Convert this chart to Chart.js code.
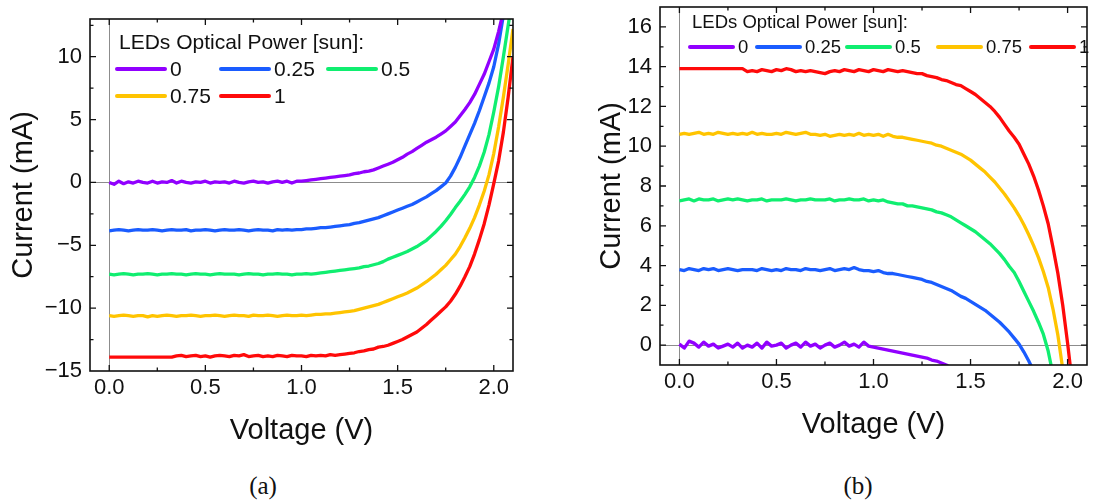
<!DOCTYPE html>
<html lang="en">
<head>
<meta charset="UTF-8">
<title>LED I-V curves</title>
<script src="https://cdn.jsdelivr.net/npm/chart.js"></script>
<style>
  body { margin: 0; background: #fff; width: 1106px; height: 500px; position: relative; overflow: hidden; }
  .box { position: absolute; top: 0; height: 455px; }
  #boxA { left: 0; width: 545px; }
  #boxB { left: 560px; width: 546px; }
  .cap { position: absolute; top: 472px; line-height: 30px; font: 25px "Liberation Serif", "DejaVu Serif", serif; color: #111; transform: translateX(-50%); }
</style>
</head>
<body>
<div class="box" id="boxA"><canvas id="chartA"></canvas></div>
<div class="box" id="boxB"><canvas id="chartB"></canvas></div>
<div class="cap" style="left:263px">(a)</div>
<div class="cap" style="left:858px">(b)</div>

<script>
// voltage sweep (V), shared by every curve
const voltage = [0, 0.025, 0.05, 0.075, 0.1, 0.125, 0.15, 0.175, 0.2, 0.225, 0.25, 0.275, 0.3, 0.325, 0.35, 0.375, 0.4, 0.425, 0.45, 0.475,
  0.5, 0.525, 0.55, 0.575, 0.6, 0.625, 0.65, 0.675, 0.7, 0.725, 0.75, 0.775, 0.8, 0.825, 0.85, 0.875, 0.9, 0.925, 0.95, 0.975,
  1.0, 1.025, 1.05, 1.075, 1.1, 1.125, 1.15, 1.175, 1.2, 1.225, 1.25, 1.275, 1.3, 1.325, 1.35, 1.375, 1.4, 1.425, 1.45, 1.475,
  1.5, 1.525, 1.55, 1.575, 1.6, 1.625, 1.65, 1.675, 1.7, 1.725, 1.75, 1.775, 1.8, 1.825, 1.85, 1.875, 1.9, 1.925, 1.95, 1.975,
  2.0, 2.025, 2.05, 2.075, 2.1];

const sunLabels = ['0', '0.25', '0.5', '0.75', '1'];
const legendTitle = 'LEDs Optical Power [sun]:';

// panel (a): current (mA)
const aSun0 = [0.0, -0.15, 0.1, -0.1, 0.05, -0.05, 0.1, 0.0, -0.05, 0.1, -0.05, 0.05, 0.0, 0.15, -0.05, 0.1, 0.0, -0.05, 0.05, 0.0,
  0.1, -0.05, 0.05, 0.0, 0.05, -0.05, 0.1, 0.0, -0.05, 0.05, 0.1, 0.0, 0.05, -0.05, 0.05, 0.1, 0.0, 0.1, -0.05, 0.1,
  0.1, 0.15, 0.2, 0.25, 0.3, 0.35, 0.4, 0.45, 0.5, 0.55, 0.6, 0.7, 0.75, 0.85, 0.9, 1.0, 1.15, 1.3, 1.45, 1.6,
  1.8, 2.0, 2.25, 2.45, 2.7, 2.95, 3.2, 3.4, 3.6, 3.85, 4.1, 4.45, 4.8, 5.3, 5.8, 6.35, 7.0, 7.8, 8.6, 9.6,
  10.6, 12.0, 13.6, null, null];
const aSun025 = [-3.85, -3.8, -3.75, -3.8, -3.85, -3.8, -3.75, -3.8, -3.8, -3.75, -3.8, -3.85, -3.8, -3.75, -3.8, -3.8, -3.75, -3.85, -3.8, -3.8,
  -3.75, -3.8, -3.85, -3.8, -3.75, -3.8, -3.8, -3.75, -3.8, -3.85, -3.8, -3.75, -3.8, -3.8, -3.85, -3.75, -3.8, -3.75, -3.8, -3.75,
  -3.75, -3.7, -3.7, -3.65, -3.6, -3.6, -3.55, -3.5, -3.45, -3.4, -3.35, -3.25, -3.2, -3.1, -3.0, -2.9, -2.8, -2.65, -2.5, -2.35,
  -2.2, -2.05, -1.9, -1.75, -1.55, -1.35, -1.15, -0.9, -0.65, -0.35, -0.05, 0.5, 1.2, 2.0, 2.9, 3.8, 4.7, 5.7, 6.8, 7.9,
  9.2, 11.0, 13.3, null, null];
const aSun05 = [-7.3, -7.35, -7.3, -7.25, -7.3, -7.35, -7.3, -7.3, -7.25, -7.3, -7.35, -7.3, -7.3, -7.25, -7.3, -7.3, -7.35, -7.3, -7.25, -7.3,
  -7.3, -7.35, -7.3, -7.25, -7.3, -7.3, -7.3, -7.35, -7.3, -7.25, -7.3, -7.3, -7.35, -7.3, -7.3, -7.25, -7.3, -7.3, -7.35, -7.3,
  -7.3, -7.25, -7.3, -7.25, -7.2, -7.15, -7.1, -7.05, -7.0, -6.95, -6.9, -6.85, -6.8, -6.7, -6.65, -6.55, -6.45, -6.3, -6.1, -5.95,
  -5.8, -5.65, -5.5, -5.3, -5.1, -4.85, -4.6, -4.25, -3.9, -3.5, -3.05, -2.55, -2.0, -1.5, -0.95, -0.35, 0.4, 1.3, 2.4, 3.8,
  5.6, 7.6, 10.0, 12.5, 15.0];
const aSun075 = [-10.6, -10.65, -10.6, -10.55, -10.6, -10.65, -10.6, -10.6, -10.7, -10.6, -10.65, -10.6, -10.55, -10.6, -10.65, -10.6, -10.6, -10.55, -10.6, -10.65,
  -10.6, -10.6, -10.55, -10.6, -10.65, -10.6, -10.55, -10.6, -10.6, -10.65, -10.55, -10.6, -10.6, -10.55, -10.6, -10.65, -10.6, -10.55, -10.6, -10.6,
  -10.55, -10.6, -10.55, -10.5, -10.5, -10.45, -10.45, -10.4, -10.35, -10.3, -10.25, -10.2, -10.1, -10.0, -9.9, -9.8, -9.7, -9.55, -9.4, -9.25,
  -9.1, -8.95, -8.8, -8.6, -8.4, -8.15, -7.9, -7.6, -7.3, -6.95, -6.6, -6.15, -5.7, -5.1, -4.4, -3.65, -2.8, -1.8, -0.7, 0.6,
  2.3, 4.4, 6.8, 9.4, 12.2];
const aSun1 = [-13.9, -13.9, -13.9, -13.9, -13.9, -13.9, -13.9, -13.9, -13.9, -13.9, -13.9, -13.9, -13.9, -13.9,
  -13.8, -13.75, -13.85, -13.8, -13.75, -13.85, -13.8, -13.9, -13.8, -13.75, -13.8, -13.85, -13.75, -13.8, -13.7, -13.85,
  -13.8, -13.75, -13.85, -13.8, -13.85, -13.75, -13.8, -13.85, -13.75, -13.8,
  -13.8, -13.85, -13.75, -13.8, -13.75, -13.8, -13.7, -13.75, -13.7, -13.65, -13.6, -13.55, -13.45, -13.4, -13.3, -13.25, -13.1, -13.05, -12.95, -12.8,
  -12.65, -12.5, -12.3, -12.1, -11.9, -11.6, -11.3, -10.95, -10.6, -10.25, -9.9, -9.45, -8.9, -8.25, -7.5, -6.7, -5.7, -4.55, -3.3, -1.8,
  -0.1, 1.7, 4.0, 6.8, 10.0];

// panel (b): current (mA), sign flipped
const bSun0 = [0.05, -0.15, 0.2, 0.1, -0.1, 0.15, -0.05, 0.05, -0.15, -0.05, 0.05, -0.1, 0.1, -0.15, 0.0, -0.1, 0.1, -0.15, 0.15, -0.05,
  0.0, 0.1, -0.15, 0.0, 0.1, -0.1, 0.15, -0.05, 0.05, -0.15, 0.0, 0.1, -0.1, 0.0, 0.15, -0.05, 0.05, -0.1, 0.15, -0.05,
  -0.1, -0.15, -0.2, -0.25, -0.3, -0.35, -0.4, -0.45, -0.5, -0.55, -0.6, -0.65, -0.75, -0.8, -0.9, -1.0, -1.15, null, null, null,
  null, null, null, null, null, null, null, null, null, null, null, null, null, null, null, null, null, null, null, null,
  null, null, null, null, null];
const bSun025 = [3.8, 3.75, 3.85, 3.8, 3.75, 3.85, 3.8, 3.85, 3.75, 3.8, 3.85, 3.8, 3.75, 3.8, 3.8, 3.8, 3.75, 3.85, 3.8, 3.75,
  3.8, 3.75, 3.85, 3.8, 3.8, 3.75, 3.85, 3.8, 3.8, 3.75, 3.8, 3.85, 3.75, 3.8, 3.85, 3.8, 3.9, 3.8, 3.75, 3.75,
  3.7, 3.75, 3.65, 3.6, 3.6, 3.55, 3.5, 3.45, 3.4, 3.35, 3.3, 3.2, 3.15, 3.05, 2.95, 2.85, 2.75, 2.6, 2.45, 2.35,
  2.2, 2.05, 1.9, 1.75, 1.55, 1.35, 1.15, 0.9, 0.65, 0.35, 0.05, -0.35, -0.8, -1.3, null, null, null, null, null, null,
  null, null, null, null, null];
const bSun05 = [7.25, 7.3, 7.35, 7.25, 7.35, 7.3, 7.3, 7.35, 7.25, 7.3, 7.35, 7.3, 7.35, 7.3, 7.25, 7.3, 7.3, 7.35, 7.25, 7.3,
  7.3, 7.3, 7.35, 7.3, 7.25, 7.3, 7.3, 7.35, 7.3, 7.3, 7.3, 7.35, 7.25, 7.3, 7.3, 7.35, 7.3, 7.3, 7.35, 7.25,
  7.3, 7.25, 7.3, 7.2, 7.15, 7.1, 7.1, 7.0, 7.0, 6.95, 6.9, 6.85, 6.8, 6.7, 6.65, 6.55, 6.45, 6.3, 6.15, 6.0,
  5.85, 5.7, 5.5, 5.3, 5.1, 4.85, 4.6, 4.3, 3.95, 3.65, 3.2, 2.7, 2.2, 1.7, 1.15, 0.55, -0.3, -1.5, null, null,
  null, null, null, null, null];
const bSun075 = [10.6, 10.65, 10.6, 10.65, 10.7, 10.6, 10.65, 10.6, 10.7, 10.65, 10.6, 10.65, 10.6, 10.65, 10.6, 10.7, 10.6, 10.65, 10.6, 10.6,
  10.65, 10.6, 10.7, 10.65, 10.6, 10.65, 10.7, 10.6, 10.6, 10.55, 10.6, 10.5, 10.55, 10.6, 10.55, 10.6, 10.55, 10.65, 10.55, 10.6,
  10.55, 10.6, 10.5, 10.6, 10.5, 10.45, 10.45, 10.4, 10.35, 10.3, 10.25, 10.2, 10.15, 10.05, 10.0, 9.9, 9.8, 9.7, 9.6, 9.45,
  9.3, 9.1, 8.9, 8.7, 8.45, 8.2, 7.9, 7.6, 7.25, 6.9, 6.5, 6.05, 5.55, 5.0, 4.4, 3.7, 2.9, 1.8, 0.5, -1.2,
  null, null, null, null, null];
const bSun1 = [13.9, 13.9, 13.9, 13.9, 13.9, 13.9, 13.9, 13.9, 13.9, 13.9, 13.9, 13.9, 13.9, 13.9,
  13.75, 13.8, 13.75, 13.85, 13.8, 13.75, 13.85, 13.8, 13.9, 13.85, 13.75, 13.8, 13.75, 13.8, 13.75, 13.7,
  13.65, 13.75, 13.8, 13.75, 13.85, 13.8, 13.75, 13.85, 13.8, 13.75,
  13.85, 13.8, 13.75, 13.85, 13.8, 13.75, 13.8, 13.75, 13.7, 13.65, 13.65, 13.55, 13.5, 13.45, 13.35, 13.3, 13.2, 13.1, 13.05, 12.9,
  12.75, 12.6, 12.4, 12.2, 12.0, 11.75, 11.45, 11.1, 10.75, 10.45, 10.1, 9.6, 9.1, 8.5, 7.8, 7.0, 6.1, 4.9, 3.6, 2.0,
  0.1, -2.0, null, null, null];

// tick labels
const xTicks = [0, 0.5, 1.0, 1.5, 2.0];
const yTicksA = [-15, -10, -5, 0, 5, 10];
const yTicksB = [0, 2, 4, 6, 8, 10, 12, 14, 16];

const colors = ['#9100ff', '#1a5cff', '#10ee70', '#ffc400', '#ff0a0a'];
const FONT = '"Liberation Sans", Arial, sans-serif';

// frame, inward ticks, zero lines and the legend inside the plot
const framePlugin = {
  id: 'frame',
  beforeDatasetsDraw(chart, args, opts) {
    const { ctx, chartArea: a, scales: { x, y } } = chart;
    ctx.save();
    ctx.strokeStyle = '#8c8c8c';
    ctx.lineWidth = 1;
    const y0 = Math.round(y.getPixelForValue(0)) + 0.5;
    const x0 = Math.round(x.getPixelForValue(0)) + 0.5;
    ctx.beginPath();
    ctx.moveTo(a.left, y0); ctx.lineTo(a.right, y0);
    ctx.moveTo(x0, a.top); ctx.lineTo(x0, a.bottom);
    ctx.stroke();
    ctx.restore();
  },
  afterDatasetsDraw(chart, args, opts) {
    const { ctx, chartArea: a, scales: { x, y } } = chart;
    const marks = (scale, step, majors) => {
      const out = [];
      for (let k = Math.ceil(scale.min / step); k * step <= scale.max + 1e-9; k++) {
        const v = +(k * step).toFixed(4);
        if (v <= scale.min || v >= scale.max) continue;
        out.push({ v, len: majors.includes(v) ? 6 : 3.5 });
      }
      return out;
    };
    ctx.save();
    ctx.strokeStyle = '#111';
    ctx.lineWidth = 1.3;
    ctx.beginPath();
    for (const m of marks(x, opts.xMinor, xTicks)) {
      const px = x.getPixelForValue(m.v);
      ctx.moveTo(px, a.bottom); ctx.lineTo(px, a.bottom - m.len);
      ctx.moveTo(px, a.top); ctx.lineTo(px, a.top + m.len);
    }
    for (const m of marks(y, opts.yMinor, opts.yMajor)) {
      const py = y.getPixelForValue(m.v);
      ctx.moveTo(a.left, py); ctx.lineTo(a.left + m.len, py);
      ctx.moveTo(a.right, py); ctx.lineTo(a.right - m.len, py);
    }
    ctx.stroke();
    ctx.lineWidth = 1.6;
    ctx.strokeRect(a.left, a.top, a.right - a.left, a.bottom - a.top);

    // legend
    const lg = opts.legend;
    ctx.font = lg.size + 'px ' + FONT;
    ctx.fillStyle = '#111';
    ctx.textAlign = 'left';
    ctx.textBaseline = 'middle';
    ctx.fillText(legendTitle, a.left + lg.titleX, a.top + lg.titleY);
    ctx.lineCap = 'round';
    ctx.lineWidth = 4;
    chart.data.datasets.forEach((ds, i) => {
      const [ix, iy] = lg.items[i];
      const lx = a.left + ix, ly = a.top + iy;
      ctx.strokeStyle = ds.borderColor;
      ctx.beginPath();
      ctx.moveTo(lx, ly); ctx.lineTo(lx + lg.len, ly);
      ctx.stroke();
      ctx.fillText(ds.label, lx + lg.len + lg.gap, ly + 1);
    });
    ctx.restore();
  }
};

function makeChart(id, series, cfg) {
  const datasets = series.map((s, i) => ({
    label: sunLabels[i],
    data: voltage.map((v, k) => ({ x: v, y: s[k] })),
    borderColor: colors[i],
    borderWidth: 3.3,
    borderJoinStyle: 'round',
    pointRadius: 0,
    tension: 0,
    spanGaps: false
  }));
  return new Chart(document.getElementById(id), {
    type: 'line',
    data: { datasets },
    plugins: [framePlugin],
    options: {
      responsive: true,
      maintainAspectRatio: false,
      animation: false,
      layout: { padding: cfg.padding },
      plugins: {
        legend: { display: false },
        tooltip: { enabled: false },
        frame: { xMinor: 0.25, yMinor: cfg.yMinor, yMajor: cfg.yTicks, legend: cfg.legend }
      },
      scales: {
        x: {
          type: 'linear', min: -0.1, max: 2.1,
          grid: { display: false, drawTicks: false },
          border: { display: false },
          afterBuildTicks: s => { s.ticks = xTicks.map(v => ({ value: v })); },
          afterFit: s => { s.height = 77; s.paddingLeft = 0; s.paddingRight = 0; },
          ticks: {
            autoSkip: false, maxRotation: 0, padding: 4, color: '#111',
            font: { family: FONT, size: 22 },
            callback: v => v.toFixed(1)
          },
          title: { display: true, text: 'Voltage (V)', color: '#111', padding: 0, font: { family: FONT, size: 29 } }
        },
        y: {
          type: 'linear', min: cfg.yMin, max: cfg.yMax,
          grid: { display: false, drawTicks: false },
          border: { display: false },
          afterBuildTicks: s => { s.ticks = cfg.yTicks.map(v => ({ value: v })); },
          afterFit: s => { s.width = cfg.yWidth; s.paddingTop = 0; s.paddingBottom = 0; },
          ticks: {
            autoSkip: false, padding: 8, color: '#111',
            font: { family: FONT, size: 22 },
            callback: v => String(v).replace('-', '\u2212')
          },
          title: { display: true, text: 'Current (mA)', color: '#111', padding: 0, font: { family: FONT, size: 29 } }
        }
      }
    }
  });
}

makeChart('chartA', [aSun0, aSun025, aSun05, aSun075, aSun1], {
  padding: { left: 7, top: 19, right: 32, bottom: 7 },
  yWidth: 83, yMin: -15, yMax: 13, yMinor: 2.5, yTicks: yTicksA,
  legend: { size: 21, titleX: 29, titleY: 24, len: 48, gap: 5,
    items: [[27, 50], [131, 50], [238, 50], [27, 77], [131, 77]] }
});

makeChart('chartB', [bSun0, bSun025, bSun05, bSun075, bSun1], {
  padding: { left: 35, top: 7, right: 19, bottom: 13 },
  yWidth: 65, yMin: -1, yMax: 17, yMinor: 1, yTicks: yTicksB,
  legend: { size: 18.5, titleX: 32, titleY: 16, len: 43, gap: 5,
    items: [[30, 40], [97, 40], [187, 40], [278, 40], [371, 40]] }
});
</script>
</body>
</html>
